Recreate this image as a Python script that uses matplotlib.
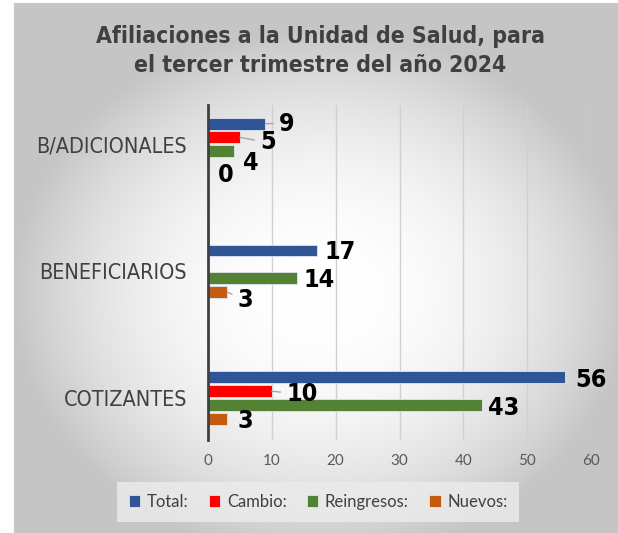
import glob
import numpy as np
import matplotlib.pyplot as plt
from matplotlib import font_manager

categories = ['B/ADICIONALES', 'BENEFICIARIOS', 'COTIZANTES']
series = ['Total:', 'Cambio:', 'Reingresos:', 'Nuevos:']
total = [9, 17, 56]
cambio = [5, np.nan, 10]   # no value for BENEFICIARIOS
reingresos = [4, 14, 43]
nuevos = [0, 3, 3]
values = [total, cambio, reingresos, nuevos]
colors = ['#2F5597', '#FF0000', '#548235', '#C55A11']

# label offsets (pixels) from bar end, and whether a leader line is drawn
offsets = [
    [(21, 0, True), (24, -2, False), (25, -3, False)],
    [(28, -5, True), None, (30, -3, True)],
    [(17, -12, False), (22, -2, False), (21, -3, False)],
    [(18, -10, False), (18, -8, True), (18, -2, False)],
]


def find_font(patterns):
    for p in patterns:
        hits = sorted(glob.glob('/usr/share/fonts/**/' + p, recursive=True))
        if hits:
            return font_manager.FontProperties(fname=hits[0])
    return None


narrow_bold = find_font(['LiberationSansNarrow-Bold.ttf', 'DejaVuSansCondensed-Bold.ttf'])
narrow_reg = find_font(['LiberationSansNarrow-Regular.ttf', 'DejaVuSansCondensed.ttf'])
if narrow_bold is None:
    narrow_bold = font_manager.FontProperties(family='Liberation Sans', weight='bold')
if narrow_reg is None:
    narrow_reg = font_manager.FontProperties(family='Liberation Sans')

plt.rcParams['font.family'] = ['Lato', 'DejaVu Sans']

fig = plt.figure(figsize=(6.18, 5.33), dpi=100)

# radial gradient background of the chart area
bg = fig.add_axes([14 / 618, 0, 1 - 14 / 618, 1 - 3 / 533], zorder=-5)
h, w = 530, 604
yy, xx = np.mgrid[0:h, 0:w]
t = np.sqrt(((xx - 306) / 309.0) ** 2 + ((yy - 290) / 266.0) ** 2)
t = np.clip(t, 0, 1) ** 2.2
shade = 255 - 58 * t
img = np.dstack([shade, shade, shade]) / 255.0
bg.imshow(img, aspect='auto', interpolation='bilinear')
bg.set_xticks([])
bg.set_yticks([])
for s in bg.spines.values():
    s.set_color('#c8c8c8')
    s.set_linewidth(0.8)

ax = fig.add_axes([208 / 618, 1 - 440 / 533, 383 / 618, 335 / 533])
ax.patch.set_alpha(0)

pos = np.arange(len(categories))
step = 0.109
bar_h = 0.094
for i, (name, vals, col) in enumerate(zip(series, values, colors)):
    y = pos + (i - 1.5) * step
    ax.barh(y, vals, height=bar_h, color=col, edgecolor='#dfe6f0',
            linewidth=0.6, label=name, zorder=3)
    for j, v in enumerate(vals):
        if np.isnan(v) or offsets[i][j] is None:
            continue
        dx, dy, lead = offsets[i][j]
        lab = ax.annotate(str(int(v)), xy=(v, y[j]),
                          xytext=(dx * 0.72, dy * 0.72), textcoords='offset points',
                          ha='center', va='center', color='black', zorder=5,
                          arrowprops=dict(arrowstyle='-', color='#a6a6a6', lw=1,
                                          shrinkA=2, shrinkB=0) if lead else None)
        lab.set_fontproperties(narrow_bold)
        lab.set_fontsize(18)

ax.set_xlim(0, 60)
ax.set_xticks(range(0, 61, 10))
ax.set_ylim(2.33, -0.31)
ax.set_yticks(pos)
ax.set_yticklabels(categories, color='#404040')
for lab in ax.get_yticklabels():
    lab.set_fontproperties(narrow_reg)
    lab.set_fontsize(15.5)
ax.tick_params(axis='y', length=0, pad=15)
ax.tick_params(axis='x', length=0, labelsize=11, labelcolor='#595959', pad=10)
ax.grid(axis='x', color='#d0d0d0', linewidth=1, zorder=0)
for s in ['top', 'right', 'bottom']:
    ax.spines[s].set_visible(False)
ax.spines['left'].set_color('#404040')
ax.spines['left'].set_linewidth(2)
ax.spines['left'].set_zorder(4)

title = fig.text(320 / 618, 1 - 51 / 533,
                 'Afiliaciones a la Unidad de Salud, para\nel tercer trimestre del año 2024',
                 ha='center', va='center', color='#404040', linespacing=1.3)
title.set_fontproperties(narrow_bold)
title.set_fontsize(16.5)

leg = fig.legend(loc='center', bbox_to_anchor=(318 / 618, 1 - 502 / 533), ncol=4,
                 fontsize=12, frameon=True, facecolor='#ececec', edgecolor='none',
                 fancybox=False, framealpha=0.8, handlelength=0.7, handleheight=0.7,
                 handletextpad=0.4, columnspacing=1.2, borderpad=0.7)
for txt in leg.get_texts():
    txt.set_color('#404040')

fig.savefig('out.png', dpi=100)
